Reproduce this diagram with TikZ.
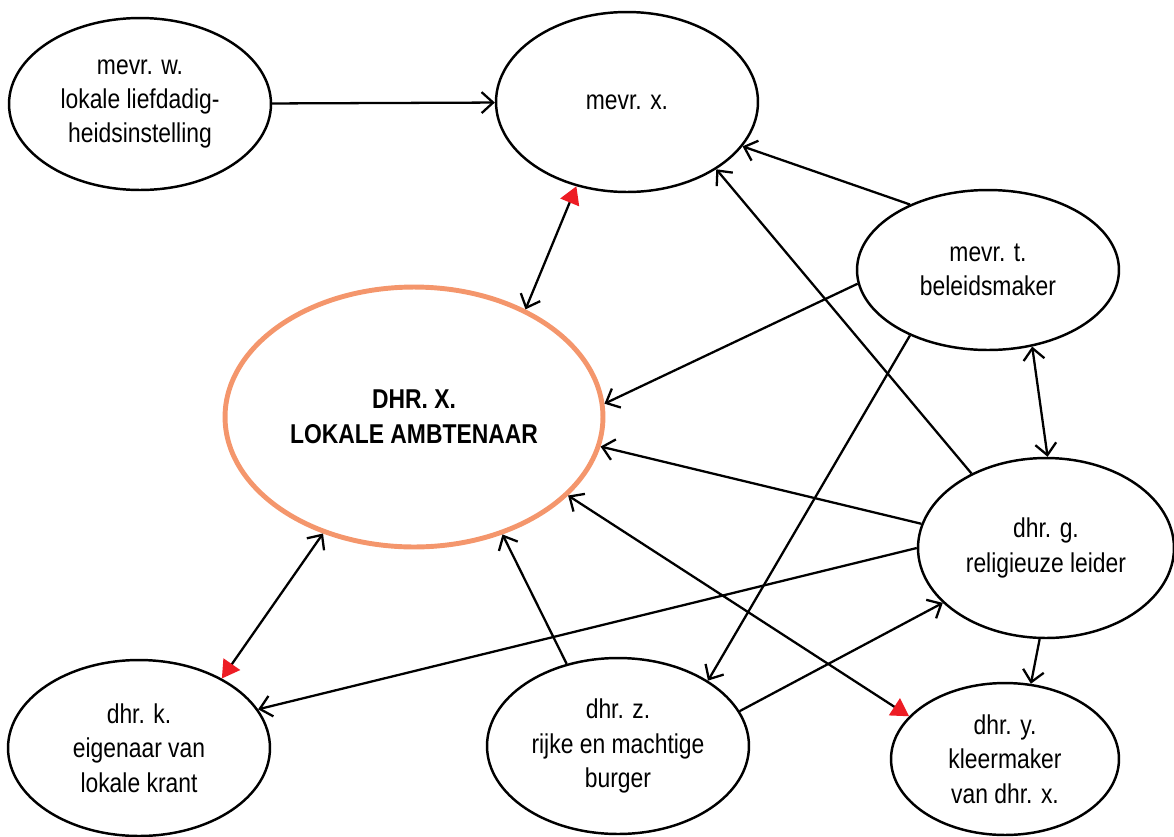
\documentclass[tikz,border=0pt]{standalone}
\usepackage{fontspec}
\setmainfont{Liberation Sans}[FakeStretch=0.84]
\usetikzlibrary{shapes.geometric, arrows.meta}

\definecolor{rood}{RGB}{237,28,36}
\definecolor{zalm}{RGB}{244,150,108}

\tikzset{
    persoon/.style={draw, ellipse, line width=1.4pt, inner sep=0pt, align=center,
        font=\fontsize{15.5}{19.5}\selectfont},
    pijl/.style={line width=1.3pt, -{Straight Barb[length=2.3mm, width=4.2mm]}},
    beide/.style={line width=1.3pt, {Straight Barb[length=2.3mm, width=4.2mm]}-{Straight Barb[length=2.3mm, width=4.2mm]}},
    rodepijl/.style={line width=1.3pt, {Straight Barb[length=2.3mm, width=4.2mm]}-{Triangle[length=3.5mm, width=4mm, color=rood]}}
}

\begin{document}
\begin{tikzpicture}[x=0.02cm, y=-0.02cm]

    \useasboundingbox (0,0) rectangle (1174,836);

    % Personen
    \node[persoon, minimum width=5.24cm, minimum height=3.44cm] (w) at (140,104) {mevr. w.\\lokale liefdadig-\\heidsinstelling};
    \node[persoon, minimum width=5.24cm, minimum height=3.6cm] (x) at (627,102) {mevr. x.};
    \node[persoon, minimum width=5.24cm, minimum height=3.2cm] (t) at (988,270) {mevr. t.\\beleidsmaker};
    \node[persoon, draw=zalm, line width=2.8pt, minimum width=7.56cm, minimum height=5.2cm,
        font=\fontsize{15.5}{20}\selectfont\bfseries] (X) at (414,417) {DHR. X.\\LOKALE AMBTENAAR};
    \node[persoon, minimum width=5.12cm, minimum height=3.6cm] (g) at (1046,548) {dhr. g.\\religieuze leider};
    \node[persoon, minimum width=5.24cm, minimum height=3.52cm] (k) at (139,748) {dhr. k.\\eigenaar van\\lokale krant};
    \node[persoon, minimum width=5.24cm, minimum height=3.52cm] (z) at (618,746) {dhr. z.\\rijke en machtige\\burger};
    \node[persoon, minimum width=4.56cm, minimum height=3.04cm] (y) at (1005,759) {dhr. y.\\kleermaker\\van dhr. x.};

    % Enkele relaties
    \draw[pijl] (w) -- (x);
    \draw[pijl] (t.140) -- (x.-21);
    \draw[pijl] (g.135) -- (x.-37);
    \draw[pijl] (t.186) -- (X.4);
    \draw[pijl] (t.220) -- (z.36);
    \draw[pijl] (g.169) -- (X.-9.5);
    \draw[pijl] (g.180) -- (k.18);
    \draw[pijl] (z.16) -- (g.208);
    \draw[pijl] (z.122) -- (X.-53);
    \draw[pijl] (g.266) -- (y.71);

    % Wederzijdse relaties
    \draw[beide] (t.-60) -- (g.89);
    \draw[rodepijl] (X.44) -- (x.239);
    \draw[rodepijl] (X.-27) -- (y.156);
    \draw[rodepijl] (X.232) -- (k.40);

\end{tikzpicture}
\end{document}
